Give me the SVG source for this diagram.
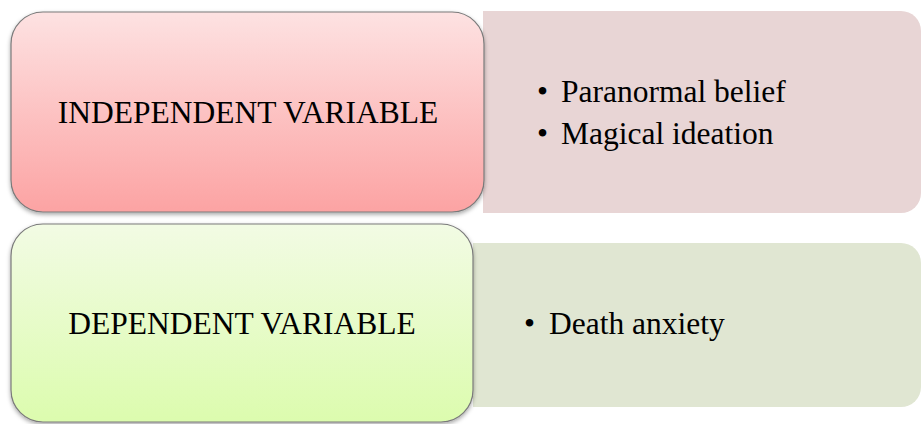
<svg xmlns="http://www.w3.org/2000/svg" width="922" height="424" viewBox="0 0 922 424">
<defs>
<linearGradient id="gRed" x1="0" y1="0" x2="0" y2="1">
<stop offset="0" stop-color="#fde2e2"/>
<stop offset="1" stop-color="#fca3a3"/>
</linearGradient>
<linearGradient id="gGreen" x1="0" y1="0" x2="0" y2="1">
<stop offset="0" stop-color="#f2fbe4"/>
<stop offset="1" stop-color="#dcfcae"/>
</linearGradient>
<filter id="sh" x="-5%" y="-5%" width="110%" height="115%">
<feDropShadow dx="0" dy="2" stdDeviation="2" flood-color="#000" flood-opacity="0.35"/>
</filter>
</defs>
<style>
.main{stroke:#7a7a7a;stroke-width:1.2;filter:url(#sh)}
.t{font-family:"Liberation Serif","Times New Roman",serif;font-size:31.5px;fill:#000}
.c{text-anchor:middle}
</style>
<rect width="922" height="424" fill="#ffffff"/>
<g id="independent-items">
<path d="M483 11 H901 A20 20 0 0 1 921 31 V193 A20 20 0 0 1 901 213 H483 Z" fill="#e8d5d5"/>
<text class="t" x="537" y="102"><tspan>•</tspan><tspan x="561">Paranormal belief</tspan></text>
<text class="t" x="537" y="144"><tspan>•</tspan><tspan x="561">Magical ideation</tspan></text>
</g>
<g id="dependent-items">
<path d="M473 243 H901 A20 20 0 0 1 921 263 V387 A20 20 0 0 1 901 407 H473 Z" fill="#e0e6d2"/>
<text class="t" x="524" y="334"><tspan>•</tspan><tspan x="549">Death anxiety</tspan></text>
</g>
<g id="independent">
<rect class="main" x="11" y="12" width="473" height="200" rx="32" ry="32" fill="url(#gRed)"/>
<text class="t c" x="248" y="123">INDEPENDENT VARIABLE</text>
</g>
<g id="dependent">
<rect class="main" x="11" y="224" width="462" height="198" rx="32" ry="32" fill="url(#gGreen)"/>
<text class="t c" x="242" y="334">DEPENDENT VARIABLE</text>
</g>
<g id="connectors"></g>
</svg>
